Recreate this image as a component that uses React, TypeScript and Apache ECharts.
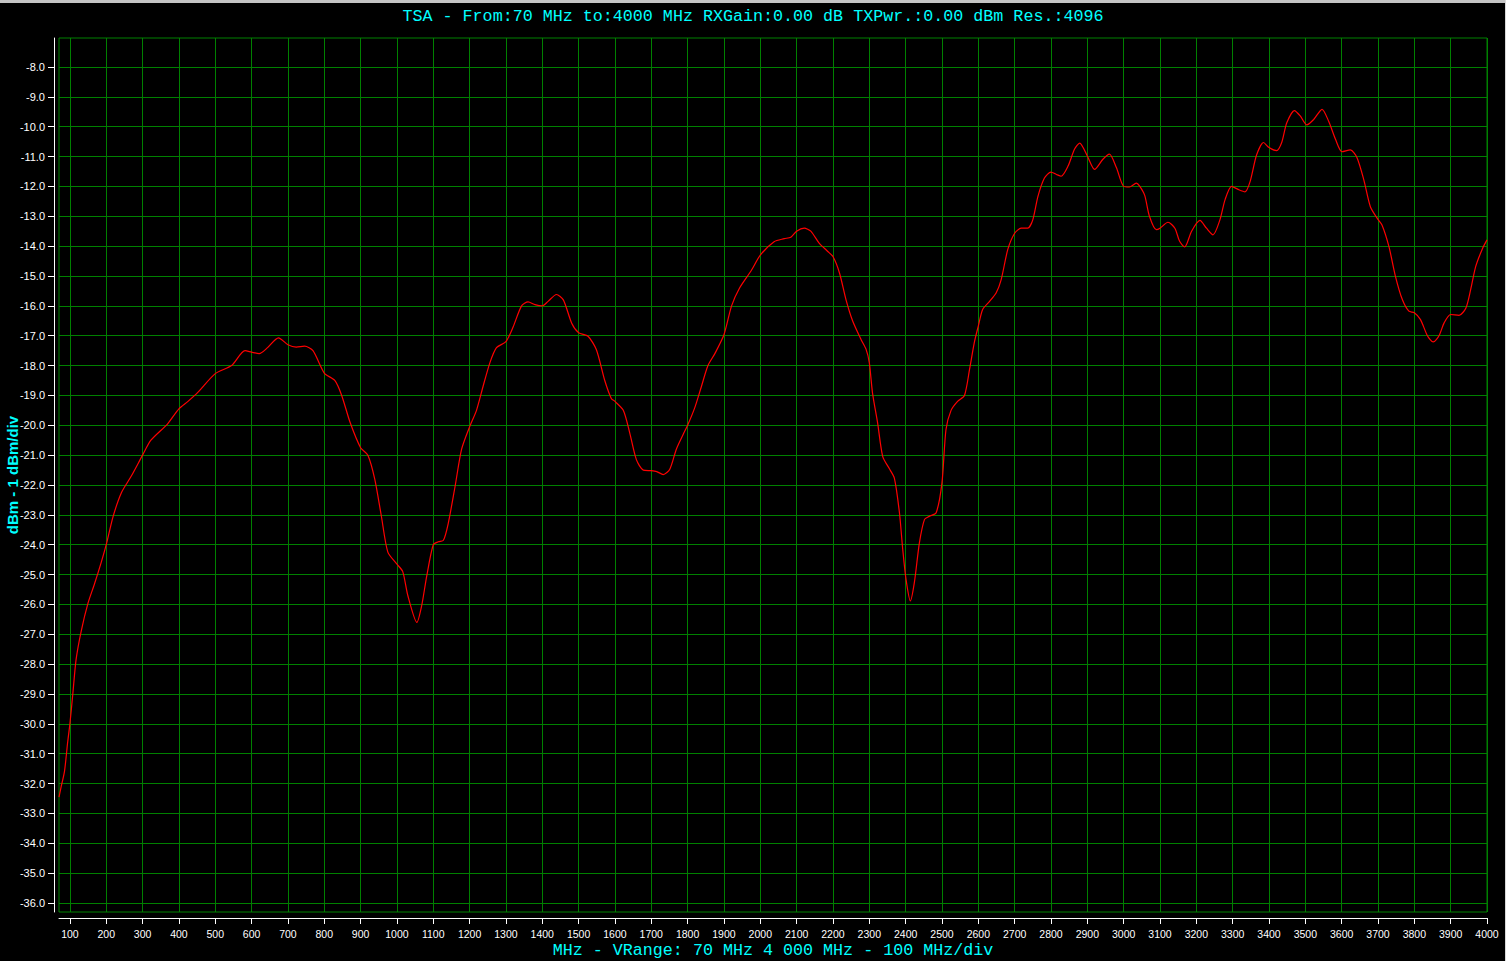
import React, { useEffect, useRef } from "react";
import * as echarts from "echarts";

const TITLE = "TSA - From:70 MHz to:4000 MHz RXGain:0.00 dB TXPwr.:0.00 dBm Res.:4096";
const X_NAME = "MHz - VRange: 70 MHz 4 000 MHz - 100 MHz/div";
const Y_NAME = "dBm - 1 dBm/div";

const X_TICKS = [
  100, 200, 300, 400, 500, 600, 700, 800, 900, 1000, 1100, 1200, 1300, 1400, 1500, 1600, 1700, 1800, 1900, 2000,
  2100, 2200, 2300, 2400, 2500, 2600, 2700, 2800, 2900, 3000, 3100, 3200, 3300, 3400, 3500, 3600, 3700, 3800, 3900, 4000,
];
const Y_TICKS = [
  -8, -9, -10, -11, -12, -13, -14, -15, -16, -17, -18, -19, -20, -21, -22, -23, -24, -25, -26, -27, -28, -29, -30,
  -31, -32, -33, -34, -35, -36,
];

// Sweep frequencies (MHz)
const FREQ_MHZ = [
  70, 76, 85, 94, 100, 108, 117, 131, 150, 168, 186, 200, 219, 242, 269, 300, 323, 369, 400, 425, 452, 500, 545, 582,
  600, 621, 644, 674, 700, 723, 746, 769, 800, 829, 848, 871, 900, 920, 939, 957, 975, 1000, 1016, 1030, 1055, 1068,
  1082, 1100, 1114, 1128, 1141, 1160, 1178, 1200, 1219, 1237, 1256, 1274, 1300, 1320, 1343, 1361, 1380, 1400, 1416,
  1439, 1458, 1481, 1500, 1526, 1549, 1572, 1590, 1600, 1623, 1641, 1659, 1678, 1700, 1715, 1733, 1751, 1769, 1788,
  1800, 1820, 1838, 1856, 1875, 1900, 1921, 1943, 1976, 2000, 2038, 2066, 2084, 2100, 2121, 2139, 2162, 2185, 2200,
  2218, 2236, 2254, 2277, 2291, 2300, 2309, 2323, 2337, 2355, 2369, 2383, 2392, 2401, 2413, 2424, 2438, 2452, 2465,
  2484, 2500, 2511, 2525, 2543, 2562, 2576, 2589, 2600, 2612, 2631, 2649, 2663, 2681, 2700, 2718, 2736, 2750, 2764,
  2782, 2800, 2815, 2828, 2847, 2865, 2879, 2900, 2920, 2943, 2961, 2980, 3000, 3016, 3035, 3044, 3058, 3071, 3090,
  3100, 3122, 3141, 3154, 3168, 3187, 3210, 3228, 3246, 3265, 3279, 3297, 3315, 3334, 3348, 3366, 3385, 3400, 3421,
  3435, 3449, 3470, 3486, 3504, 3523, 3546, 3564, 3583, 3601, 3624, 3642, 3661, 3679, 3698, 3711, 3730, 3748, 3767,
  3785, 3800, 3817, 3836, 3852, 3868, 3882, 3900, 3923, 3942, 3955, 3969, 3988, 4000,
];

// Measured level (dBm)
const LEVEL_DBM = [
  -32.45, -32.1, -31.6, -30.6, -30.0, -29.0, -27.85, -26.9, -25.95, -25.3, -24.6, -24.0, -23.05, -22.25, -21.7, -21.0,
  -20.5, -19.95, -19.45, -19.2, -18.9, -18.27, -18.0, -17.5, -17.55, -17.6, -17.4, -17.07, -17.3, -17.38, -17.35, -17.5,
  -18.25, -18.5, -19.0, -19.9, -20.75, -21.0, -21.8, -23.03, -24.25, -24.65, -24.9, -25.7, -26.6, -26.05, -25.05, -24.0,
  -23.9, -23.85, -23.3, -22.05, -20.8, -20.05, -19.5, -18.7, -17.9, -17.4, -17.2, -16.7, -16.0, -15.87, -15.96, -16.0,
  -15.85, -15.62, -15.8, -16.58, -16.9, -17.02, -17.47, -18.5, -19.1, -19.2, -19.5, -20.27, -21.15, -21.5, -21.52,
  -21.55, -21.65, -21.47, -20.8, -20.3, -20.0, -19.4, -18.7, -18.0, -17.6, -16.97, -16.0, -15.4, -14.8, -14.3, -13.85,
  -13.75, -13.7, -13.5, -13.4, -13.5, -13.9, -14.17, -14.35, -14.9, -15.8, -16.5, -17.12, -17.45, -17.9, -18.93,
  -19.93, -21.05, -21.45, -21.77, -22.93, -24.15, -25.15, -25.88, -25.27, -23.93, -23.15, -23.05, -22.93, -21.93,
  -20.15, -19.5, -19.2, -19.0, -18.12, -17.23, -16.68, -16.12, -15.85, -15.57, -15.12, -14.12, -13.57, -13.4, -13.4,
  -13.12, -12.34, -11.72, -11.52, -11.6, -11.66, -11.32, -10.75, -10.55, -10.98, -11.43, -11.09, -10.92, -11.37, -12.0,
  -12.02, -11.89, -11.99, -12.3, -13.0, -13.45, -13.4, -13.2, -13.4, -13.84, -14.03, -13.5, -13.14, -13.4, -13.62,
  -13.12, -12.45, -12.0, -12.1, -12.18, -11.84, -10.94, -10.53, -10.7, -10.8, -10.53, -9.87, -9.46, -9.64, -9.94,
  -9.76, -9.42, -9.81, -10.42, -10.84, -10.78, -11.03, -11.78, -12.68, -13.07, -13.29, -14.01, -15.01, -15.79, -16.18,
  -16.23, -16.46, -17.0, -17.21, -17.0, -16.57, -16.29, -16.32, -16.07, -15.46, -14.68, -14.07, -13.79,
];

const CYAN = "#00ffff";
const GRID_GREEN = "#008000";

export default function App() {
  const ref = useRef<HTMLDivElement>(null);

  useEffect(() => {
    if (!ref.current) return;
    const chart = echarts.init(ref.current, null, { renderer: "svg" });
    const data = FREQ_MHZ.map((f, i) => [f, LEVEL_DBM[i]]);
    chart.setOption({
      animation: false,
      backgroundColor: "#000000",
      title: {
        text: TITLE,
        left: "center",
        top: 8,
        padding: 0,
        textStyle: { color: CYAN, fontFamily: "Liberation Mono", fontSize: 16.7, fontWeight: "normal" },
      },
      graphic: [
        { type: "rect", shape: { x: 0, y: 0, width: 1506, height: 3 }, style: { fill: "#c4c4c4" }, silent: true },
        { type: "rect", shape: { x: 1505, y: 0, width: 1, height: 961 }, style: { fill: "#d8d8d8" }, silent: true },
      ],
      grid: {
        left: 59,
        right: 19,
        top: 38,
        bottom: 49,
        containLabel: false,
        outerBoundsMode: "none",
        show: true,
        borderColor: GRID_GREEN,
        borderWidth: 1,
        backgroundColor: "transparent",
      },
      xAxis: {
        type: "value",
        min: 70,
        max: 4000,
        offset: 6,
        name: X_NAME,
        nameLocation: "middle",
        nameGap: 24,
        nameMoveOverlap: false,
        nameTextStyle: { color: CYAN, fontFamily: "Liberation Mono", fontSize: 16.7 },
        axisLine: { show: true, onZero: false, lineStyle: { color: "#ffffff", width: 1 } },
        axisTick: { show: true, length: 6, customValues: X_TICKS, lineStyle: { color: "#ffffff" } },
        axisLabel: {
          customValues: X_TICKS,
          formatter: (v: number) => String(v),
          color: "#ffffff",
          fontSize: 10.5,
          fontFamily: "Liberation Sans",
          margin: 10,
          hideOverlap: false,
        },
        splitLine: { show: true, lineStyle: { color: GRID_GREEN, width: 1 } },
      },
      yAxis: {
        type: "value",
        min: -36.3,
        max: -7.03,
        offset: 5,
        name: Y_NAME,
        nameLocation: "middle",
        nameGap: 34,
        nameRotate: 90,
        nameMoveOverlap: false,
        nameTextStyle: { color: CYAN, fontFamily: "Liberation Sans", fontSize: 15, fontWeight: "bold" },
        axisLine: { show: true, onZero: false, lineStyle: { color: "#ffffff", width: 1 } },
        axisTick: { show: true, length: 6, customValues: Y_TICKS, lineStyle: { color: "#ffffff" } },
        axisLabel: {
          customValues: Y_TICKS,
          formatter: (v: number) => v.toFixed(1),
          color: "#ffffff",
          fontSize: 11,
          fontFamily: "Liberation Sans",
          margin: 9,
        },
        splitLine: { show: true, lineStyle: { color: GRID_GREEN, width: 1 } },
      },
      series: [
        {
          type: "line",
          data,
          showSymbol: false,
          smooth: 0.25,
          lineStyle: { color: "#ff0000", width: 1.2 },
          clip: true,
        },
      ],
    });
    return () => chart.dispose();
  }, []);

  return (
    <div
      ref={ref}
      style={{ position: "absolute", left: 0, top: 0, width: 1506, height: 961, background: "#000" }}
    />
  );
}
